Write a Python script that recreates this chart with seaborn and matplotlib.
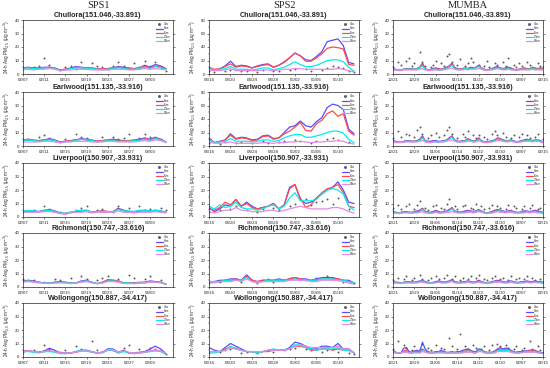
import numpy as np
import pandas as pd
import matplotlib
matplotlib.use("Agg")
import matplotlib.pyplot as plt
import matplotlib.dates as mdates
from matplotlib.ticker import MultipleLocator
import seaborn as sns

nan = np.nan

# --- 1. Etiquetas ---
campaigns = ['SPS1', 'SPS2', 'MUMBA']
stations = ['Chullora(151.046,-33.891)', 'Earlwood(151.135,-33.916)',
            'Liverpool(150.907,-33.931)', 'Richmond(150.747,-33.616)',
            'Wollongong(150.887,-34.417)']
series_names = ['Obs', '3km', '9km', '27km', '81km']
line_colors = ['#5a4cff', '#ff4a4a', '#00eeee', '#e48ae8']

sps1_dates = pd.date_range('2011-02-07', periods=28)
sps2_dates = pd.date_range('2012-04-16', periods=28)
mumba_dates = pd.date_range('2012-12-21', periods=57)

# --- 2. SPS1 (24-h PM2.5) ---
s1_chu_obs = [4, nan, 5, 6, 12, 7, nan, 3, 5, 6, 4, 9, nan, 8, 6, 5, 4, 6, 9, 6, nan, 8, 5, 10, 6, 9, 5, 2]
s1_chu_3km = [4.5, 5, 4.5, 4.5, 5, 5, 4.5, 3, 3.5, 4.5, 5.5, 5, 4.5, 4.5, 4, 3.5, 4, 4.5, 5.5, 5, 4.5, 4, 4.5, 6.5, 5, 7, 6, 4]
s1_chu_9km = [4.5, 4.5, 4, 4.5, 4.5, 5, 4, 3, 3.5, 4, 5, 4.5, 4.5, 4, 4, 3.5, 4, 4.5, 5, 4.5, 4, 4, 4.5, 5.5, 4.5, 6, 5, 4]
s1_chu_27km = [4, 4.5, 4, 4, 4.5, 4.5, 4, 2.5, 3, 4, 4.5, 4.5, 4, 4, 3.5, 3, 3.5, 4, 4.5, 4, 3.5, 3.5, 4, 5, 4, 5.5, 4.5, 3.5]
s1_chu_81km = [3.5, 3.5, 3, 3.5, 3.5, 4, 3.5, 2.5, 3, 3, 3.5, 3.5, 3.5, 3, 3, 3, 3, 3.5, 3.5, 3.5, 3, 3, 3.5, 4, 3.5, 4, 3.5, 3]

s1_ear_obs = [4, 5, nan, 7, 8, 6, nan, 3, 5, nan, 9, 7, 6, nan, 4, 7, nan, 7, 5, 6, 9, nan, 6, 9, 7, 6, 5, nan]
s1_ear_3km = [4.5, 4.5, 4, 4, 4.5, 5.5, 4.5, 3, 3.5, 4, 4.5, 5.5, 5, 4.5, 3.5, 4, 4.5, 5, 4.5, 4, 4, 4.5, 5, 6, 5, 6.5, 5, 3]
s1_ear_9km = [4.5, 5, 4.5, 4, 4.5, 5, 4, 3, 3.5, 4, 4.5, 5, 4.5, 4, 3.5, 4, 4.5, 4.5, 4, 4, 4, 4, 4.5, 5.5, 4.5, 6, 4.5, 3]
s1_ear_27km = [4, 4.5, 4, 3.5, 4, 4.5, 4, 2.5, 3, 3.5, 4, 5, 4.5, 4, 3, 3.5, 4, 4, 3.5, 3.5, 3.5, 4, 4, 5, 4, 5.5, 4.5, 3]
s1_ear_81km = [3, 3, 3, 3, 3.5, 3.5, 3, 2.5, 3, 3, 3.5, 3.5, 3.5, 3, 3, 3, 3.5, 3.5, 3, 3, 3, 3, 3.5, 4, 3.5, 4.5, 4, 2.5]

s1_liv_obs = [4, nan, 5, nan, 8, 6, nan, 4, 3, nan, 5, 7, 8, nan, 5, 6, nan, 4, 8, nan, 7, nan, 8, 5, 6, nan, 7, 5]
s1_liv_3km = [4.5, 4.5, 4.5, 4, 5, 5.5, 4.5, 3, 2.5, 3.5, 4, 4.5, 5, 3.5, 4, 4.5, 4, 4, 6.5, 5, 4, 4, 4.5, 5, 4.5, 5, 4.5, 3.5]
s1_liv_9km = [4.5, 4.5, 4, 4, 4.5, 5, 4, 3, 2.5, 3.5, 4, 4.5, 4.5, 3.5, 4, 4.5, 4, 4, 6, 4.5, 4, 4, 4.5, 4.5, 4.5, 4.5, 4, 3.5]
s1_liv_27km = [4.5, 5, 4.5, 4, 4.5, 5, 4, 3, 2.5, 3.5, 4.5, 5, 5, 3.5, 4, 4, 4, 4, 5.5, 4.5, 4.5, 4, 5, 5, 4.5, 5, 4.5, 3.5]
s1_liv_81km = [3.5, 3.5, 3.5, 3.5, 4, 4, 3.5, 2.5, 2, 3, 3.5, 3.5, 4, 3, 3.5, 3.5, 3.5, 3.5, 4.5, 3.5, 3.5, 3, 3.5, 3.5, 3.5, 4, 3.5, 3]

s1_ric_obs = [6, nan, 5, nan, 4, nan, 6, 5, nan, 7, nan, 8, 6, nan, 5, 7, 8, nan, 6, nan, 9, 7, nan, 6, 8, nan, 5, nan]
s1_ric_3km = [4.5, 5, 4.5, 3.5, 3, 3, 3.5, 4, 3.5, 3, 3, 4.5, 5, 3.5, 2.5, 3.5, 5, 5, 4.5, 3, 3, 3, 3.5, 3.5, 4.5, 4, 3.5, 2]
s1_ric_9km = [4.5, 4.5, 4, 3.5, 3, 3, 3.5, 3.5, 3.5, 3, 3, 4, 4.5, 3.5, 2.5, 3.5, 5.5, 5, 4.5, 3, 3, 3, 3, 3.5, 4, 4, 3.5, 2]
s1_ric_27km = [4, 4.5, 4, 3.5, 3, 3, 3, 3.5, 3, 3, 3, 4, 4.5, 3.5, 2.5, 3, 4.5, 4.5, 4, 3, 3, 2.5, 3, 3, 4, 3.5, 3.5, 2]
s1_ric_81km = [3.5, 4, 3.5, 3, 3, 2.5, 3, 3, 3, 2.5, 3, 3.5, 4, 3, 2.5, 3, 4, 4, 3.5, 2.5, 2.5, 2.5, 3, 3, 3.5, 3.5, 3, 2]

s1_wol_obs = [4, nan, 5, nan, 9, 6, nan, 4, 5, nan, 8, 6, nan, 12, 5, nan, 6, 5, nan, 7, 9, nan, 6, nan, 7, 6, nan, 2]
s1_wol_3km = [4.5, 4.5, 4, 3.5, 4.5, 6.5, 5, 3, 3, 3, 4, 5, 5, 4, 3, 3.5, 6, 6, 3.5, 5, 3, 3, 3.5, 4, 6, 8, 6, 2.5]
s1_wol_9km = [4, 4.5, 4, 3.5, 4, 4.5, 4, 3, 2.5, 3, 3.5, 4.5, 4.5, 3.5, 3, 3.5, 5, 5, 3, 4.5, 3, 2.5, 3, 3.5, 4.5, 5, 4.5, 2]
s1_wol_27km = [4, 4, 3.5, 3, 4, 4, 3.5, 2.5, 2.5, 3, 4, 5, 5, 3.5, 3, 3, 5, 5, 3, 4, 3, 2.5, 3, 3.5, 4, 4.5, 4, 2]
s1_wol_81km = [4, 4.5, 4, 3.5, 4, 4.5, 4, 3, 3, 3, 3.5, 4.5, 4.5, 4, 3, 3.5, 5.5, 5.5, 3.5, 4.5, 3.5, 3, 3, 3.5, 4.5, 5, 4.5, 2.5]

# --- 3. SPS2 ---
s2_chu_obs = [4, 3, nan, 5, 6, nan, 4, 5, nan, 3, 6, nan, 4, 5, nan, 6, 8, nan, 7, 5, nan, 6, 9, 12, 11, 9, 5, 3]
s2_chu_3km = [10, 6, 7, 12, 19, 11, 13, 12, 9, 12, 14, 15, 10, 13, 18, 24, 31, 27, 21, 20, 26, 33, 48, 50, 52, 42, 17, 15]
s2_chu_9km = [9, 7, 8, 11, 15, 10, 12, 11, 9, 11, 13, 14, 10, 13, 17, 24, 31, 27, 19, 19, 24, 30, 38, 40, 39, 37, 14, 13]
s2_chu_27km = [8, 6, 7, 8, 11, 7, 7, 7, 6, 7, 9, 9, 6, 8, 10, 14, 18, 14, 11, 11, 13, 16, 20, 21, 21, 18, 10, 4]
s2_chu_81km = [6, 5, 5, 6, 8, 5, 5, 5, 5, 5, 6, 6, 5, 6, 7, 7, 8, 8, 7, 7, 7, 7, 7, 7, 8, 7, 5, 3]

s2_ear_obs = [5, nan, 3, 6, nan, 4, 6, nan, 5, nan, 7, 5, nan, 6, 8, nan, 9, 7, nan, 5, 8, nan, 11, 12, 9, nan, 6, nan]
s2_ear_3km = [12, 5, 7, 9, 18, 11, 13, 12, 9, 10, 15, 16, 11, 12, 20, 28, 30, 37, 30, 28, 36, 42, 57, 62, 60, 54, 25, 18]
s2_ear_9km = [11, 5, 6, 9, 16, 10, 12, 11, 8, 9, 14, 15, 10, 12, 18, 22, 28, 35, 23, 22, 33, 38, 48, 52, 44, 48, 22, 16]
s2_ear_27km = [9, 5, 6, 7, 11, 7, 7, 7, 6, 7, 9, 9, 7, 8, 12, 15, 17, 17, 13, 13, 15, 17, 20, 22, 22, 19, 10, 5]
s2_ear_81km = [6, 4, 4, 5, 6, 4, 4, 4, 4, 4, 5, 5, 4, 5, 5, 6, 6, 7, 6, 5, 6, 6, 7, 7, 8, 7, 4, 3]

s2_liv_obs = [4, nan, 5, nan, 6, 8, nan, 5, nan, 4, 6, nan, 7, 5, nan, 8, 10, nan, 13, 9, 11, 12, 13, 10, 14, nan, 6, nan]
s2_liv_3km = [7, 4, 6, 9, 8, 13, 8, 11, 8, 6, 7, 8, 10, 6, 9, 22, 24, 13, 10, 11, 14, 17, 20, 22, 26, 20, 11, 10]
s2_liv_9km = [6, 5, 7, 11, 9, 13, 8, 10, 7, 6, 7, 8, 10, 6, 9, 21, 24, 14, 7, 9, 14, 18, 21, 22, 24, 18, 8, 7]
s2_liv_27km = [8, 6, 9, 7, 8, 11, 7, 6, 6, 5, 6, 8, 9, 6, 8, 14, 18, 12, 12, 12, 13, 17, 20, 21, 20, 17, 8, 5]
s2_liv_81km = [4, 3, 4, 5, 5, 7, 5, 5, 4, 4, 4, 5, 5, 4, 5, 6, 7, 8, 7, 6, 6, 6, 6, 7, 7, 6, 4, 3]

s2_ric_obs = [3, nan, 4, 5, nan, 6, 4, nan, 5, 3, nan, 6, 4, nan, 5, 7, nan, 6, 5, nan, 7, nan, 8, 6, 5, 4, nan, 3]
s2_ric_3km = [4, 4, 5, 5, 6, 6, 5, 9, 5, 4, 5, 5, 5, 6, 5, 6, 7, 6, 6, 5, 6, 7, 7, 7, 6, 5, 5, 3]
s2_ric_9km = [4, 4, 4, 5, 5, 6, 5, 8, 5, 4, 5, 5, 5, 5, 5, 6, 7, 6, 5, 5, 5, 6, 6, 6, 6, 5, 4, 3]
s2_ric_27km = [4, 4, 4, 5, 5, 5, 5, 7, 4, 4, 4, 5, 5, 5, 5, 5, 6, 5, 5, 5, 5, 6, 6, 6, 5, 5, 4, 3]
s2_ric_81km = [3, 3, 4, 4, 4, 5, 4, 6, 4, 3, 4, 4, 4, 4, 4, 5, 5, 5, 5, 4, 4, 5, 5, 5, 5, 4, 3, 2]

s2_wol_obs = [3, nan, 4, 5, 6, nan, 3, 4, nan, 3, nan, 5, 4, nan, 5, 6, 7, nan, 6, 5, nan, 4, 5, 6, 4, nan, 3, 2]
s2_wol_3km = [7, 5, 4, 7, 10, 8, 6, 4, 4, 3, 4, 5, 5, 5, 5, 7, 11, 10, 8, 6, 6, 8, 8, 7, 10, 6, 6, 3]
s2_wol_9km = [4, 4, 4, 6, 7, 6, 5, 4, 4, 3, 4, 4, 5, 5, 5, 6, 8, 8, 7, 5, 5, 6, 6, 5, 6, 5, 5, 3]
s2_wol_27km = [3, 3, 4, 5, 8, 6, 5, 4, 4, 3, 4, 5, 6, 5, 5, 6, 9, 9, 7, 6, 5, 6, 6, 6, 7, 5, 5, 3]
s2_wol_81km = [4, 4, 4, 5, 7, 7, 5, 4, 4, 4, 4, 5, 5, 5, 5, 6, 8, 9, 8, 7, 7, 7, 7, 7, 8, 6, 6, 3]

# --- 4. MUMBA ---
m_chu_obs = [5, nan, 9, 7, nan, 10, 12, 6, 8, nan, 16, 9, 6, nan, 5, 7, 10, nan, 8, 6, 13, 15, 9, nan,
             7, 11, nan, 6, 8, 12, 9, nan, 7, nan, 6, 10, 5, nan, 8, 7, nan, 9, 6, 12, nan, 7, 5, 8,
             6, nan, 9, 7, 5, nan, 8, 6, 5]
m_chu_3km = [4, 3.5, 3, 3, 3.5, 4, 4, 4, 3.5, 4, 5, 8, 4, 3, 3.5, 4, 4.5, 4, 3.5, 4, 5, 6, 8, 5,
             4, 3.5, 4, 4.5, 4, 5, 4.5, 5, 6.5, 4.5, 3.5, 3, 3.5, 4, 5, 5.5, 4.5, 4, 4.5, 5, 4.5, 3.5, 3, 3.5,
             4, 4.5, 4, 4, 4.5, 4.5, 4, 4.5, 4]
m_chu_9km = [3.5, 3, 3, 3, 3.5, 3.5, 4, 3.5, 3.5, 4, 4.5, 7, 4, 3, 3, 3.5, 4, 3.5, 3.5, 4, 4.5, 5.5, 7.5, 4.5,
             3.5, 3.5, 4, 4, 4, 4.5, 4, 5, 6, 4.5, 3.5, 3, 3, 4, 4.5, 5, 4.5, 4, 4, 4.5, 4, 3.5, 3, 3.5,
             4, 4, 4, 4, 4.5, 4, 4, 4, 4]
m_chu_27km = [3.5, 3, 3, 3, 3.5, 3.5, 3.5, 3.5, 3.5, 3.5, 4.5, 6, 3.5, 3, 3, 3.5, 3.5, 2.5, 3, 3.5, 4, 5, 6.5, 4,
              3.5, 3, 3.5, 4, 3.5, 4, 4, 4.5, 5.5, 4, 3, 3, 3, 3.5, 4, 4.5, 4, 3.5, 3.5, 4, 3.5, 3, 3, 3,
              3.5, 3.5, 3.5, 3.5, 4, 3.5, 3.5, 3.5, 3.5]
m_chu_81km = [3, 3, 2.5, 2.5, 3, 3, 3, 3, 3, 3, 3.5, 4, 3, 2.5, 2.5, 3, 3, 3, 3, 3, 3.5, 4, 4.5, 3.5,
              3, 3, 3, 3.5, 3, 3.5, 3.5, 3.5, 4, 3.5, 3, 2.5, 3, 3, 3.5, 4, 3.5, 3, 3, 3.5, 3, 3, 2.5, 3,
              3, 3, 3, 3, 3.5, 3, 3, 3, 3]

m_ear_obs = [6, nan, 11, 7, nan, 9, 8, nan, 7, 12, 14, 9, nan, 6, 8, nan, 10, 7, nan, 8, 12, 14, 9, nan,
             6, nan, 9, 7, 11, nan, 8, 6, 8, nan, 7, 5, nan, 9, 11, 8, nan, 10, 7, nan, 6, 8, nan, 7,
             9, nan, 8, 6, nan, 7, 9, nan, 5]
m_ear_3km = [4, 3.5, 3, 3, 3.5, 4, 4, 3.5, 3.5, 4, 5, 7.5, 4, 3.5, 3.5, 4, 4, 3.5, 3.5, 4, 4.5, 6, 7.5, 4.5,
             3.5, 3.5, 4, 4, 5.5, 4.5, 3.5, 4, 6, 4, 3, 3, 3.5, 4, 4.5, 6, 5.5, 4.5, 4, 4, 4.5, 4, 3, 3.5,
             4, 4.5, 5, 4.5, 4, 4.5, 4.5, 4, 3]
m_ear_9km = [3.5, 3, 3, 3, 3, 3.5, 3.5, 3.5, 3.5, 3.5, 4.5, 6.5, 4, 3, 3, 3.5, 3.5, 3, 3.5, 3.5, 4, 5.5, 7, 4,
             3.5, 3, 3.5, 4, 5, 4, 3.5, 3.5, 5.5, 4, 3, 3, 3, 3.5, 4.5, 5.5, 5, 4.5, 4, 4, 4, 3.5, 3, 3,
             3.5, 4, 4.5, 4, 4, 4, 4, 3.5, 3]
m_ear_27km = [3.5, 3, 3, 3, 3, 3.5, 3.5, 3, 3, 3.5, 4, 6, 3.5, 3, 2.5, 3, 3, 2.5, 3, 3.5, 4, 5, 6.5, 4,
              3, 3, 3.5, 3.5, 4.5, 4, 3, 3.5, 5, 3.5, 3, 2.5, 3, 3.5, 4, 5, 4.5, 4, 3.5, 3.5, 4, 3.5, 3, 3,
              3.5, 3.5, 4, 4, 3.5, 4, 4, 3.5, 2.5]
m_ear_81km = [3, 2.5, 2.5, 2.5, 3, 3, 3, 3, 3, 3, 3.5, 4, 3, 2.5, 2.5, 3, 3, 3, 3, 3, 3.5, 4, 4.5, 3.5,
              3, 3, 3, 3, 3.5, 3.5, 3, 3, 4, 3, 2.5, 2.5, 3, 3, 3.5, 4, 4, 3.5, 3, 3, 3.5, 3, 2.5, 3,
              3, 3.5, 3.5, 3.5, 3, 3.5, 3.5, 3, 2.5]

m_liv_obs = [7, nan, 9, 6, nan, 8, 10, nan, 6, 9, 12, nan, 7, 5, nan, 8, 9, nan, 7, 6, 10, 13, nan, 8,
             6, nan, 8, 9, nan, 7, 6, 10, nan, 8, 6, nan, 7, 9, nan, 8, 7, nan, 6, 9, nan, 8, 7, nan,
             6, 8, nan, 7, 9, nan, 6, 7, nan]
m_liv_3km = [4, 3.5, 3, 3.5, 4, 4, 3.5, 3.5, 4, 4.5, 5, 6.5, 4, 3.5, 3.5, 4, 5, 4, 3.5, 4, 4.5, 5.5, 7, 4.5,
             4, 3.5, 4, 4.5, 5, 4.5, 4, 4.5, 5.5, 4.5, 3.5, 3, 3.5, 4, 5, 5.5, 5, 4.5, 4, 4.5, 5, 4, 3.5, 3.5,
             4, 4.5, 4.5, 4, 4.5, 5, 4.5, 4, 3.5]
m_liv_9km = [3.5, 3.5, 3, 3, 3.5, 3.5, 3.5, 3, 3.5, 4, 4.5, 6, 4, 3.5, 3, 3.5, 4.5, 3.5, 3.5, 3.5, 4, 5, 6.5, 4,
             3.5, 3.5, 3.5, 4, 4.5, 4, 4, 4, 5, 4, 3.5, 3, 3, 3.5, 4.5, 5, 4.5, 4, 4, 4, 4.5, 4, 3.5, 3,
             3.5, 4, 4, 4, 4, 4.5, 4, 3.5, 3]
m_liv_27km = [3.5, 3, 3, 3, 3.5, 3.5, 3, 3, 3.5, 3.5, 4, 5.5, 3.5, 3, 3, 3, 4, 3, 3, 3.5, 4, 4.5, 6, 4,
              3.5, 3, 3.5, 3.5, 4, 4, 3.5, 4, 4.5, 4, 3, 3, 3, 3, 4, 4.5, 4.5, 4, 3.5, 4, 4, 3.5, 3, 3,
              3.5, 3.5, 4, 3.5, 4, 4, 3.5, 3.5, 3]
m_liv_81km = [3, 3, 2.5, 3, 3, 3, 3, 3, 3, 3, 3.5, 4, 3, 3, 2.5, 3, 3.5, 3, 3, 3, 3.5, 3.5, 4, 3.5,
              3, 3, 3, 3, 3.5, 3.5, 3, 3.5, 4, 3.5, 3, 2.5, 3, 3, 3.5, 4, 3.5, 3.5, 3, 3.5, 3.5, 3, 3, 3,
              3, 3, 3.5, 3, 3.5, 3.5, 3, 3, 2.5]

m_ric_obs = [5, nan, 7, nan, 6, 8, nan, 5, 7, nan, 9, 6, nan, 5, 7, nan, 8, 6, nan, 7, 9, nan, 6, 8,
             nan, 5, 7, nan, 6, 8, nan, 7, 9, nan, 6, 5, nan, 7, 8, nan, 6, 7, nan, 5, 8, nan, 6, 7,
             nan, 6, 8, nan, 7, 5, nan, 6, 4]
m_ric_3km = [4, 3.5, 3.5, 3, 3.5, 4, 4, 3.5, 3.5, 4, 4.5, 5, 4, 3.5, 3, 3.5, 4, 4.5, 4, 3.5, 4, 4.5, 5.5, 4,
             3.5, 3.5, 4, 4, 4.5, 4, 3.5, 4, 5, 4, 3.5, 3, 3.5, 4, 4.5, 5, 4.5, 4, 3.5, 4, 4.5, 4, 3.5, 3.5,
             4, 4, 4.5, 4, 4, 4.5, 4, 4, 3.5]
m_ric_9km = [3.5, 3.5, 3, 3, 3, 3.5, 3.5, 3.5, 3.5, 3.5, 4, 4.5, 3.5, 3, 3, 3, 3.5, 4, 3.5, 3.5, 3.5, 4, 5, 3.5,
             3.5, 3, 3.5, 3.5, 4, 3.5, 3.5, 3.5, 4.5, 3.5, 3, 3, 3, 3.5, 4, 4.5, 4, 3.5, 3.5, 3.5, 4, 3.5, 3, 3,
             3.5, 3.5, 4, 3.5, 3.5, 4, 3.5, 3.5, 3]
m_ric_27km = [3.5, 3, 3, 3, 3, 3.5, 3.5, 3, 3, 3.5, 4, 4.5, 3.5, 3, 3, 3, 3.5, 3.5, 3.5, 3, 3.5, 4, 4.5, 3.5,
              3, 3, 3.5, 3.5, 4, 3.5, 3, 3.5, 4, 3.5, 3, 3, 3, 3.5, 4, 4, 4, 3.5, 3, 3.5, 4, 3.5, 3, 3,
              3.5, 3.5, 3.5, 3.5, 3.5, 3.5, 3.5, 3.5, 3]
m_ric_81km = [3, 3, 3, 2.5, 3, 3, 3, 3, 3, 3, 3.5, 3.5, 3, 3, 2.5, 3, 3, 3.5, 3, 3, 3, 3.5, 4, 3,
              3, 3, 3, 3, 3.5, 3, 3, 3, 3.5, 3, 3, 2.5, 3, 3, 3.5, 3.5, 3.5, 3, 3, 3, 3.5, 3, 3, 3,
              3, 3, 3.5, 3, 3, 3.5, 3, 3, 2.5]

m_wol_obs = [6, nan, 12, nan, 9, 7, nan, 5, 8, nan, 6, 10, nan, 7, 5, nan, 9, nan, 7, 6, nan, 14, 8, nan,
             6, 17, nan, 8, 6, nan, 9, 7, nan, 6, 8, nan, 5, 9, nan, 10, 8, nan, 9, 7, nan, 6, 8, nan,
             5, 7, nan, 12, 6, nan, 8, 5, 4]
m_wol_3km = [5, 3.5, 3, 3, 6.5, 7, 4, 3.5, 4.5, 5, 4, 11, 6, 4, 3.5, 3.5, 4, 4, 5, 4, 3.5, 3.5, 4, 3.5,
             4, 4, 5, 5.5, 6, 5, 4, 4, 6, 5.5, 4, 3.5, 3.5, 3.5, 4.5, 6, 7, 6, 6.5, 6.5, 5, 4, 3.5, 4,
             4, 4.5, 4.5, 5, 5, 5, 4, 3.5, 3]
m_wol_9km = [4, 3, 3, 3, 4.5, 5, 3.5, 3, 4, 4, 3.5, 6, 4.5, 3.5, 3, 3, 3.5, 3.5, 4, 3.5, 3, 3, 3.5, 3,
             3.5, 3.5, 4, 4.5, 5, 4.5, 3.5, 3.5, 5, 5, 3.5, 3, 3, 3, 4, 5, 6, 5, 5.5, 5.5, 4.5, 3.5, 3, 3.5,
             3.5, 4, 4, 4.5, 4.5, 4.5, 3.5, 3, 2.5]
m_wol_27km = [4, 3, 3, 3, 4, 4, 3, 3, 3.5, 3.5, 3, 5, 4, 3, 3, 3, 3, 3.5, 3.5, 3, 3, 3, 3, 3,
              3, 3, 3.5, 4, 4.5, 4, 3, 3, 4.5, 4.5, 3.5, 3, 3, 3, 3.5, 4.5, 5, 4.5, 5, 5, 4, 3.5, 3, 3,
              3.5, 3.5, 4, 4, 4, 4, 3.5, 3, 2.5]
m_wol_81km = [3.5, 3, 3, 3, 3.5, 3.5, 3, 3, 3, 3, 3, 4, 3.5, 3, 3, 3, 3, 3, 3, 3, 3, 3, 3, 3,
              3, 3, 3, 3.5, 3.5, 3.5, 3, 3, 4, 4, 3, 3, 3, 3, 3, 4, 4, 4, 4, 4, 3.5, 3, 3, 3,
              3, 3.5, 3.5, 3.5, 3.5, 3.5, 3, 3, 2.5]

# --- 5. Tabla de paneles (columna, fila) ---
panel_data = {
    (0, 0): [s1_chu_obs, s1_chu_3km, s1_chu_9km, s1_chu_27km, s1_chu_81km],
    (0, 1): [s1_ear_obs, s1_ear_3km, s1_ear_9km, s1_ear_27km, s1_ear_81km],
    (0, 2): [s1_liv_obs, s1_liv_3km, s1_liv_9km, s1_liv_27km, s1_liv_81km],
    (0, 3): [s1_ric_obs, s1_ric_3km, s1_ric_9km, s1_ric_27km, s1_ric_81km],
    (0, 4): [s1_wol_obs, s1_wol_3km, s1_wol_9km, s1_wol_27km, s1_wol_81km],
    (1, 0): [s2_chu_obs, s2_chu_3km, s2_chu_9km, s2_chu_27km, s2_chu_81km],
    (1, 1): [s2_ear_obs, s2_ear_3km, s2_ear_9km, s2_ear_27km, s2_ear_81km],
    (1, 2): [s2_liv_obs, s2_liv_3km, s2_liv_9km, s2_liv_27km, s2_liv_81km],
    (1, 3): [s2_ric_obs, s2_ric_3km, s2_ric_9km, s2_ric_27km, s2_ric_81km],
    (1, 4): [s2_wol_obs, s2_wol_3km, s2_wol_9km, s2_wol_27km, s2_wol_81km],
    (2, 0): [m_chu_obs, m_chu_3km, m_chu_9km, m_chu_27km, m_chu_81km],
    (2, 1): [m_ear_obs, m_ear_3km, m_ear_9km, m_ear_27km, m_ear_81km],
    (2, 2): [m_liv_obs, m_liv_3km, m_liv_9km, m_liv_27km, m_liv_81km],
    (2, 3): [m_ric_obs, m_ric_3km, m_ric_9km, m_ric_27km, m_ric_81km],
    (2, 4): [m_wol_obs, m_wol_3km, m_wol_9km, m_wol_27km, m_wol_81km],
}
col_dates = [sps1_dates, sps2_dates, mumba_dates]
col_xlim = [(pd.Timestamp('2011-02-07'), pd.Timestamp('2011-03-07 08:00')),
            (pd.Timestamp('2012-04-16'), pd.Timestamp('2012-05-13 22:00')),
            (pd.Timestamp('2012-12-21'), pd.Timestamp('2013-02-15'))]
col_tick_step = [4, 4, 8]

# --- 6. Figura ---
sns.set_style('ticks')
plt.rcParams['font.family'] = ['Liberation Sans', 'DejaVu Sans']
W, H = 550, 368
fig = plt.figure(figsize=(5.5, 3.68), dpi=100)

col_left = [23, 209, 393]
row_top = [20, 92, 163, 233, 303]
ax_w, ax_h = 150, 54

for (c, r), vals in panel_data.items():
    ax = fig.add_axes([col_left[c] / W, 1 - (row_top[r] + ax_h) / H, ax_w / W, ax_h / H])
    dates = col_dates[c]
    sns.scatterplot(x=dates, y=vals[0], ax=ax, color='0.35', s=2.0, linewidth=0, label=series_names[0])
    for name, v, col in zip(series_names[1:], vals[1:], line_colors):
        sns.lineplot(x=dates, y=v, ax=ax, color=col, linewidth=0.9, label=name, errorbar=None)

    ymax = 80 if (c == 1 and r < 2) else 40
    ax.set_ylim(0, ymax)
    ax.yaxis.set_major_locator(MultipleLocator(ymax / 4))
    ax.yaxis.set_minor_locator(MultipleLocator(ymax / 8))
    ax.set_xlim(*col_xlim[c])
    ax.set_xticks(dates[::col_tick_step[c]])
    ax.set_xticks(dates, minor=True)
    ax.xaxis.set_major_formatter(mdates.DateFormatter('%m/%d'))
    ax.tick_params(axis='both', which='major', labelsize=3.2, length=1.6, width=0.4, pad=1)
    ax.tick_params(axis='both', which='minor', length=0.9, width=0.3)
    ax.tick_params(axis='y', right=True, which='both')
    for sp in ax.spines.values():
        sp.set_linewidth(0.5)
    ax.set_xlabel('')
    ax.set_ylabel('24-h Avg PM$_{2.5}$ ($\\mu$g m$^{-3}$)', fontsize=3.3, labelpad=1.5)
    ax.set_title(stations[r], fontsize=5.2, fontweight='bold', pad=2.2)
    ax.legend(loc='upper right', fontsize=2.0, frameon=False, handlelength=2.4,
              labelspacing=0.1, borderaxespad=0.4, markerscale=1.5, handletextpad=0.5)

for c, name in enumerate(campaigns):
    fig.text((col_left[c] + ax_w / 2) / W, 1 - 5 / H, name, ha='center', va='center',
             fontsize=7.5, family='Liberation Serif')

fig.savefig('out.png', dpi=100)
